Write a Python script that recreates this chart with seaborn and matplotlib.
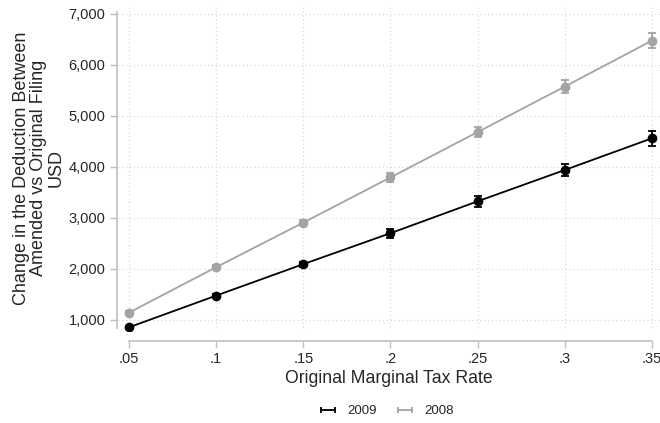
import numpy as np
import pandas as pd
import matplotlib
matplotlib.use("Agg")
import matplotlib.pyplot as plt
import seaborn as sns
from matplotlib.lines import Line2D
from matplotlib.ticker import FuncFormatter

# Valores
tax_rate = [0.05, 0.10, 0.15, 0.20, 0.25, 0.30, 0.35]
deduction_2009 = [856, 1478, 2095, 2702, 3327, 3941, 4563]
deduction_2008 = [1144, 2035, 2910, 3795, 4685, 5577, 6478]
err_2009 = [25, 35, 50, 85, 105, 125, 150]
err_2008 = [25, 35, 55, 80, 105, 130, 145]
years = ["2009", "2008"]
colors = {"2009": "#000000", "2008": "#a3a3a3"}

df = pd.DataFrame({
    "rate": tax_rate * 2,
    "deduction": deduction_2009 + deduction_2008,
    "err": err_2009 + err_2008,
    "year": ["2009"] * len(tax_rate) + ["2008"] * len(tax_rate),
})

sns.set_style("white")
plt.rcParams["font.family"] = ["Liberation Sans", "DejaVu Sans"]

fig = plt.figure(figsize=(6.6, 4.23), dpi=100)
ax = fig.add_axes([118 / 660, 1 - 331 / 423, 1 - 118 / 660, (331 - 5) / 423])

# líneas con marcadores
sns.lineplot(data=df, x="rate", y="deduction", hue="year", hue_order=years[::-1],
             palette=colors, marker="o", markersize=7, markeredgewidth=0,
             linewidth=1.3, legend=False, ax=ax, zorder=3)

# barras de error (rcap)
for yr in years:
    sub = df[df["year"] == yr]
    ax.errorbar(sub["rate"], sub["deduction"], yerr=sub["err"], fmt="none",
                ecolor=colors[yr], elinewidth=1.3, capsize=3, capthick=1.3, zorder=4)

ax.set_xlim(0.0437, 0.3546)
ax.set_ylim(784, 7176)
ax.set_xticks(tax_rate)
ax.set_xticklabels([".05", ".1", ".15", ".2", ".25", ".3", ".35"])
ax.set_yticks(range(1000, 7001, 1000))
ax.yaxis.set_major_formatter(FuncFormatter(lambda v, p: f"{int(v):,}"))

ax.grid(True, linestyle=(0, (1, 2.5)), color="#d4d4d4", linewidth=0.8)
ax.set_axisbelow(True)

for s in ["top", "right"]:
    ax.spines[s].set_visible(False)
ax.spines["left"].set_color("#c0c0c0")
ax.spines["bottom"].set_color("#c0c0c0")
ax.spines["left"].set_linewidth(1.2)
ax.spines["bottom"].set_linewidth(1.2)
ax.spines["left"].set_bounds(840, 7030)
ax.spines["bottom"].set_position(("outward", 7))
ax.spines["bottom"].set_bounds(0.05, 0.35)
ax.spines["left"].set_position(("outward", 1))

ax.tick_params(axis="both", which="both", length=5, width=1, color="#c0c0c0",
               labelsize=10.5, pad=3, bottom=True, left=True)

ax.set_xlabel("Original Marginal Tax Rate", fontsize=12.7, labelpad=3)
ax.set_ylabel("Change in the Deduction Between\nAmended vs Original Filing\nUSD",
              fontsize=13, linespacing=1.0, labelpad=3)

handles = [Line2D([0, 1], [0, 0], color=colors[yr], linewidth=1.3, marker="|",
                  markersize=5, markeredgewidth=1.3) for yr in years]
fig.legend(handles, years, loc="center", bbox_to_anchor=(385 / 660, 1 - 411 / 423),
           ncol=2, frameon=False, fontsize=9.5, numpoints=2, handlelength=1.7,
           handletextpad=0.6, columnspacing=1.3)

fig.savefig("out.png", dpi=100)
